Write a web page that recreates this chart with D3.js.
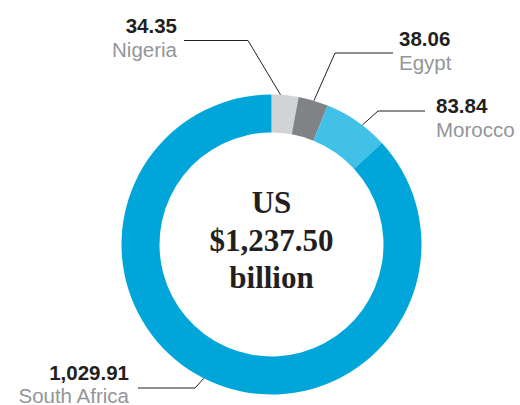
<!DOCTYPE html>
<html>
<head>
<meta charset="utf-8">
<script src="https://cdn.jsdelivr.net/npm/d3@7"></script>
<style>
  body { margin: 0; background: #fff; }
  .value { font-family: "Liberation Sans", Arial, sans-serif; font-weight: bold; font-size: 20.5px; fill: #231f20; }
  .name { font-family: "Liberation Sans", Arial, sans-serif; font-size: 20.5px; fill: #939598; }
  .total { font-family: "Liberation Serif", "Times New Roman", serif; font-weight: bold; font-size: 31px; fill: #231f20; }
</style>
</head>
<body>
<svg id="chart"></svg>
<script>
// chart data
var countries = ['Nigeria', 'Egypt', 'Morocco', 'South Africa'];
var values = [34.35, 38.06, 83.84, 1029.91];
var valueLabels = ['34.35', '38.06', '83.84', '1,029.91'];
var colors = ['#d1d3d4', '#808285', '#41c0e8', '#00a6da'];
var totalLines = ['US', '$1,237.50', 'billion'];

var opts = {
  width: 520,
  height: 405,
  cx: 271.5,
  cy: 244.5,
  outer: 150,
  inner: 112
};

// where each callout goes: point on slice (fraction), elbow, line end, text
var callouts = [
  { frac: 0.33, elbow: [248, 40.5], end: [184, 40.5], tx: 177, ty: 33, anchor: 'end' },
  { frac: 0.52, elbow: [335, 53], end: [393, 53], tx: 399, ty: 46, anchor: 'start' },
  { frac: 0.6, elbow: [378, 111], end: [425, 111], tx: 436, ty: 113, anchor: 'start' },
  { frac: 0.51, elbow: [195, 388], end: [138, 388], tx: 129, ty: 379.5, anchor: 'end' }
];

var svg = d3.select('#chart')
  .attr('width', opts.width)
  .attr('height', opts.height);

var pie = d3.pie().sort(null).value(function(d) { return d; });
var arcs = pie(values);

var arc = d3.arc()
  .innerRadius(opts.inner)
  .outerRadius(opts.outer);

var g = svg.append('g')
  .attr('transform', 'translate(' + opts.cx + ',' + opts.cy + ')');

g.selectAll('path.slice')
  .data(arcs)
  .enter().append('path')
  .attr('class', 'slice')
  .attr('d', arc)
  .attr('fill', function(d, i) { return colors[i]; });

// leader lines
svg.selectAll('polyline.leader')
  .data(arcs)
  .enter().append('polyline')
  .attr('class', 'leader')
  .attr('points', function(d, i) {
    var c = callouts[i];
    var a = d.startAngle + c.frac * (d.endAngle - d.startAngle);
    var sx = opts.cx + opts.outer * Math.sin(a);
    var sy = opts.cy - opts.outer * Math.cos(a);
    return [[sx, sy], c.elbow, c.end].map(function(p) { return p.join(','); }).join(' ');
  })
  .attr('fill', 'none')
  .attr('stroke', '#231f20')
  .attr('stroke-width', 1);

// labels
var labels = svg.selectAll('g.label')
  .data(countries)
  .enter().append('g')
  .attr('class', 'label');

labels.append('text')
  .attr('class', 'value')
  .attr('x', function(d, i) { return callouts[i].tx; })
  .attr('y', function(d, i) { return callouts[i].ty; })
  .attr('text-anchor', function(d, i) { return callouts[i].anchor; })
  .text(function(d, i) { return valueLabels[i]; });

labels.append('text')
  .attr('class', 'name')
  .attr('x', function(d, i) { return callouts[i].tx; })
  .attr('y', function(d, i) { return callouts[i].ty + 23.5; })
  .attr('text-anchor', function(d, i) { return callouts[i].anchor; })
  .text(function(d) { return d; });

// total in the middle
svg.selectAll('text.total')
  .data(totalLines)
  .enter().append('text')
  .attr('class', 'total')
  .attr('x', opts.cx)
  .attr('y', function(d, i) { return 213 + i * 37.5; })
  .attr('text-anchor', 'middle')
  .text(function(d) { return d; });
</script>
</body>
</html>
